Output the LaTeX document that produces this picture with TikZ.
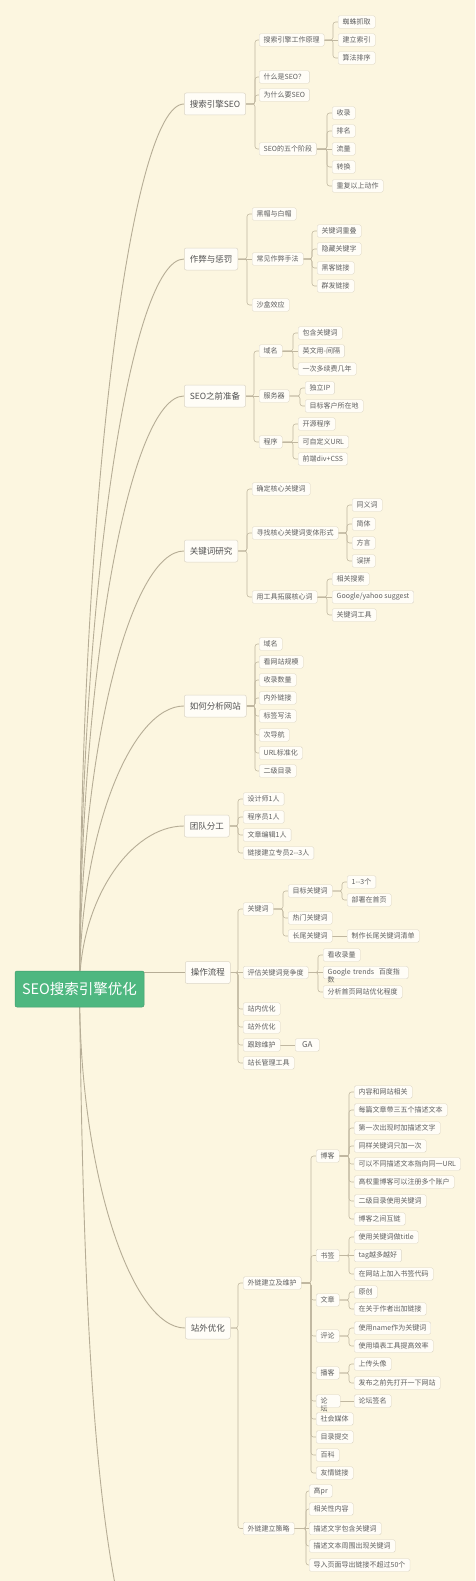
\documentclass[tikz,border=0pt]{standalone}
\usepackage{fontspec}
\setmainfont{Noto Sans CJK SC}
\usetikzlibrary{calc}
\pgfdeclarelayer{bg}
\pgfsetlayers{bg,main}
\definecolor{bgc}{RGB}{252,246,224}
\definecolor{boxfill}{RGB}{255,253,247}
\definecolor{boxline}{RGB}{220,214,198}
\definecolor{txt}{RGB}{95,95,95}
\definecolor{txtone}{RGB}{80,80,80}
\definecolor{lnc}{RGB}{192,183,160}
\definecolor{trc}{RGB}{182,173,150}
\definecolor{rootg}{RGB}{78,183,128}
\tikzset{
 l1/.style={draw=boxline, fill=boxfill, rounded corners=2pt, anchor=west, font=\fontsize{8.5}{10}\selectfont, text=txtone, inner xsep=5.5pt, inner ysep=0pt, minimum height=22pt, line width=0.5pt},
 l2/.style={draw=boxline, fill=boxfill, rounded corners=1.5pt, anchor=west, font=\fontsize{7}{8}\selectfont, text=txt, inner xsep=4.5pt, inner ysep=0pt, minimum height=12.5pt, line width=0.4pt},
 rootbox/.style={fill=rootg, draw=rootg!85!black, line width=0.5pt, rounded corners=2pt, minimum width=129pt, minimum height=36pt, font=\fontsize{14.5}{16}\selectfont, text=white, inner sep=0pt},
 br/.style={draw=lnc, line width=0.55pt, rounded corners=2.5pt},
 trunk/.style={draw=trc, line width=0.9pt},
}
\newcommand\cnx[3]{\draw[br] (#1.east) -- (#3,0 |- #1.east) |- (#2.west);}
\newcommand\cnxs[2]{\draw[br] (#1.east) -- (#2.west);}
\newcommand\trk[1]{\draw[trunk] (root.center) .. controls ($(root.center)!0.55!(root.center|-#1.west)$) and ($(#1.west)+(-53,0)$) .. (#1.west);}
\begin{document}
\begin{tikzpicture}[x=1pt,y=-1pt]
\useasboundingbox (0,0) rectangle (475,1581);
\begin{pgfonlayer}{bg}
\fill[bgc] (0,0) rectangle (475,1581);
\end{pgfonlayer}

% root
\node[rootbox] (root) at (79.5,989) {SEO搜索引擎优化};

% level 1
\node[l1] (b1) at (184,104) {搜索引擎SEO};
\node[l1] (b2) at (184,259) {作弊与惩罚};
\node[l1] (b3) at (184,396) {SEO之前准备};
\node[l1] (b4) at (184,551) {关键词研究};
\node[l1] (b5) at (184,706) {如何分析网站};
\node[l1] (b6) at (184,826) {团队分工};
\node[l1] (b7) at (185,972.5) {操作流程};
\node[l1] (b8) at (185,1328) {站外优化};

% branch 1
\node[l2] (a1) at (259,40) {搜索引擎工作原理};
\node[l2] (a11) at (338,22) {蜘蛛抓取};
\node[l2] (a12) at (338,40) {建立索引};
\node[l2] (a13) at (338,58) {算法排序};
\node[l2] (a2) at (259,77) {什么是SEO？};
\node[l2] (a3) at (259,95) {为什么要SEO};
\node[l2] (a4) at (259,149) {SEO的五个阶段};
\node[l2] (a41) at (332,113) {收录};
\node[l2] (a42) at (332,131) {排名};
\node[l2] (a43) at (332,149) {流量};
\node[l2] (a44) at (332,167) {转换};
\node[l2] (a45) at (332,186) {重复以上动作};

% branch 2
\node[l2] (c1) at (252,214) {黑帽与白帽};
\node[l2] (c2) at (252,259) {常见作弊手法};
\node[l2] (c21) at (317,231) {关键词重叠};
\node[l2] (c22) at (317,249) {隐藏关键字};
\node[l2] (c23) at (317,268) {黑客链接};
\node[l2] (c24) at (317,286) {群发链接};
\node[l2] (c3) at (252,305) {沙盒效应};

% branch 3
\node[l2] (d1) at (259,351) {域名};
\node[l2] (d11) at (298,333) {包含关键词};
\node[l2] (d12) at (298,351) {英文用-间隔};
\node[l2] (d13) at (298,369) {一次多续费几年};
\node[l2] (d2) at (259,396) {服务器};
\node[l2] (d21) at (305,388) {独立IP};
\node[l2] (d22) at (305,406) {目标客户所在地};
\node[l2] (d3) at (259,442) {程序};
\node[l2] (d31) at (298,424) {开源程序};
\node[l2] (d32) at (298,442) {可自定义URL};
\node[l2] (d33) at (298,459) {前端div+CSS};

% branch 4
\node[l2] (e1) at (252,489) {确定核心关键词};
\node[l2] (e2) at (252,533) {寻找核心关键词变体形式};
\node[l2] (e21) at (352,505) {同义词};
\node[l2] (e22) at (352,524) {简体};
\node[l2] (e23) at (352,543) {方言};
\node[l2] (e24) at (352,561) {误拼};
\node[l2] (e3) at (252,597) {用工具拓展核心词};
\node[l2] (e31) at (332,579) {相关搜索};
\node[l2] (e32) at (332,597) {Google/yahoo suggest};
\node[l2] (e33) at (332,615) {关键词工具};

% branch 5
\node[l2] (f1) at (259,644) {域名};
\node[l2] (f2) at (259,662) {看网站规模};
\node[l2] (f3) at (259,680) {收录数量};
\node[l2] (f4) at (259,698) {内外链接};
\node[l2] (f5) at (259,716) {标签写法};
\node[l2] (f6) at (259,735) {次导航};
\node[l2] (f7) at (259,753) {URL标准化};
\node[l2] (f8) at (259,771) {二级目录};

% branch 6
\node[l2] (g1) at (243,799) {设计师1人};
\node[l2] (g2) at (243,817) {程序员1人};
\node[l2] (g3) at (243,835) {文章编辑1人};
\node[l2] (g4) at (243,853) {链接建立专员2-{}-3人};

% branch 7
\node[l2] (h1) at (243,909) {关键词};
\node[l2] (h11) at (288,891) {目标关键词};
\node[l2] (h111) at (347,882) {1-{}-3个};
\node[l2] (h112) at (347,900) {部署在首页};
\node[l2] (h12) at (288,918) {热门关键词};
\node[l2] (h13) at (288,936) {长尾关键词};
\node[l2] (h131) at (347,936) {制作长尾关键词清单};
\node[l2] (h2) at (243,972.5) {评估关键词竞争度};
\node[l2] (h21) at (323,955) {看收录量};
\node[l2, text width=76pt, align=left] (h22) at (323,972.5) {\smash{\rlap{\raisebox{-7.6pt}{数}}}Google trends\ \ 百度指};
\node[l2] (h23) at (323,992) {分析首页网站优化程度};
\node[l2] (h3) at (243,1009) {站内优化};
\node[l2] (h4) at (243,1027) {站外优化};
\node[l2] (h5) at (243,1045) {跟踪维护};
\node[l2, minimum width=24pt, font=\fontsize{8}{9}\selectfont] (h51) at (295,1045) {GA};
\node[l2] (h6) at (243,1063) {站长管理工具};

% branch 8
\node[l2] (i1) at (243,1283) {外链建立及维护};
\node[l2] (i11) at (316,1156) {博客};
\node[l2] (i111) at (354,1092) {内容和网站相关};
\node[l2] (i112) at (354,1110) {每篇文章带三五个描述文本};
\node[l2] (i113) at (354,1128) {第一次出现时加描述文字};
\node[l2] (i114) at (354,1146) {同样关键词只加一次};
\node[l2] (i115) at (354,1164) {可以不同描述文本指向同一URL};
\node[l2] (i116) at (354,1182) {高权重博客可以注册多个账户};
\node[l2] (i117) at (354,1201) {二级目录使用关键词};
\node[l2] (i118) at (354,1219) {博客之间互链};
\node[l2] (i12) at (316,1255.5) {书签};
\node[l2] (i121) at (354,1237) {使用关键词做title};
\node[l2] (i122) at (354,1255.5) {tag越多越好};
\node[l2] (i123) at (354,1274) {在网站上加入书签代码};
\node[l2] (i13) at (316,1300) {文章};
\node[l2] (i131) at (354,1292) {原创};
\node[l2] (i132) at (354,1309) {在关于作者出加链接};
\node[l2] (i14) at (316,1336) {评论};
\node[l2] (i141) at (354,1328) {使用name作为关键词};
\node[l2] (i142) at (354,1346) {使用填表工具提高效率};
\node[l2] (i15) at (316,1373) {播客};
\node[l2] (i151) at (354,1364) {上传头像};
\node[l2] (i152) at (354,1383) {发布之前先打开一下网站};
\node[l2, text width=15pt, align=left] (i16) at (316,1401) {\smash{\rlap{\raisebox{-7.6pt}{坛}}}论};
\node[l2] (i161) at (354,1401) {论坛签名};
\node[l2] (i17) at (316,1419) {社会媒体};
\node[l2] (i18) at (316,1437) {目录提交};
\node[l2] (i19) at (316,1455) {百科};
\node[l2] (i1a) at (316,1473) {友情链接};
\node[l2] (i2) at (243,1528.5) {外链建立策略};
\node[l2] (i21) at (309,1491) {高pr};
\node[l2] (i22) at (309,1509) {相关性内容};
\node[l2] (i23) at (309,1528.5) {描述文字包含关键词};
\node[l2] (i24) at (309,1546) {描述文本周围出现关键词};
\node[l2] (i25) at (309,1565) {导入页面导出链接不超过50个};

\begin{pgfonlayer}{bg}
% trunk curves
\trk{b1}\trk{b2}\trk{b3}\trk{b4}\trk{b5}\trk{b6}\trk{b8}
\draw[trunk] (root.center |- b7.west) -- (b7.west);
\begin{scope}
\clip (0,0) rectangle (475,1581);
\coordinate (offb) at (150,1700);
\draw[trunk] (root.center) .. controls (84,1380) and (100,1600) .. (offb);
\end{scope}
% branch 1
\cnx{b1}{a1}{255}\cnx{b1}{a2}{255}\cnx{b1}{a3}{255}\cnx{b1}{a4}{255}
\cnx{a1}{a11}{333}\cnxs{a1}{a12}\cnx{a1}{a13}{333}
\cnx{a4}{a41}{327}\cnx{a4}{a42}{327}\cnxs{a4}{a43}\cnx{a4}{a44}{327}\cnx{a4}{a45}{327}
% branch 2
\cnx{b2}{c1}{247}\cnxs{b2}{c2}\cnx{b2}{c3}{247}
\cnx{c2}{c21}{312}\cnx{c2}{c22}{312}\cnx{c2}{c23}{312}\cnx{c2}{c24}{312}
% branch 3
\cnx{b3}{d1}{254}\cnxs{b3}{d2}\cnx{b3}{d3}{254}
\cnx{d1}{d11}{293}\cnxs{d1}{d12}\cnx{d1}{d13}{293}
\cnx{d2}{d21}{300}\cnx{d2}{d22}{300}
\cnx{d3}{d31}{293}\cnxs{d3}{d32}\cnx{d3}{d33}{293}
% branch 4
\cnx{b4}{e1}{247}\cnx{b4}{e2}{247}\cnx{b4}{e3}{247}
\cnx{e2}{e21}{347}\cnx{e2}{e22}{347}\cnx{e2}{e23}{347}\cnx{e2}{e24}{347}
\cnx{e3}{e31}{327}\cnxs{e3}{e32}\cnx{e3}{e33}{327}
% branch 5
\cnx{b5}{f1}{255}\cnx{b5}{f2}{255}\cnx{b5}{f3}{255}\cnx{b5}{f4}{255}
\cnx{b5}{f5}{255}\cnx{b5}{f6}{255}\cnx{b5}{f7}{255}\cnx{b5}{f8}{255}
% branch 6
\cnx{b6}{g1}{238}\cnx{b6}{g2}{238}\cnx{b6}{g3}{238}\cnx{b6}{g4}{238}
% branch 7
\cnx{b7}{h1}{238}\cnxs{b7}{h2}\cnx{b7}{h3}{238}\cnx{b7}{h4}{238}\cnx{b7}{h5}{238}\cnx{b7}{h6}{238}
\cnx{h1}{h11}{283}\cnx{h1}{h12}{283}\cnx{h1}{h13}{283}
\cnx{h11}{h111}{342}\cnx{h11}{h112}{342}
\cnxs{h13}{h131}
\cnx{h2}{h21}{318}\cnxs{h2}{h22}\cnx{h2}{h23}{318}
\cnxs{h5}{h51}
% branch 8
\cnx{b8}{i1}{238}\cnx{b8}{i2}{238}
\cnx{i1}{i11}{311}\cnx{i1}{i12}{311}\cnx{i1}{i13}{311}\cnx{i1}{i14}{311}\cnx{i1}{i15}{311}
\cnx{i1}{i16}{311}\cnx{i1}{i17}{311}\cnx{i1}{i18}{311}\cnx{i1}{i19}{311}\cnx{i1}{i1a}{311}
\cnx{i11}{i111}{349}\cnx{i11}{i112}{349}\cnx{i11}{i113}{349}\cnx{i11}{i114}{349}
\cnx{i11}{i115}{349}\cnx{i11}{i116}{349}\cnx{i11}{i117}{349}\cnx{i11}{i118}{349}
\cnx{i12}{i121}{349}\cnxs{i12}{i122}\cnx{i12}{i123}{349}
\cnx{i13}{i131}{349}\cnx{i13}{i132}{349}
\cnx{i14}{i141}{349}\cnx{i14}{i142}{349}
\cnx{i15}{i151}{349}\cnx{i15}{i152}{349}
\cnxs{i16}{i161}
\cnx{i2}{i21}{306}\cnx{i2}{i22}{306}\cnxs{i2}{i23}\cnx{i2}{i24}{306}\cnx{i2}{i25}{306}
\end{pgfonlayer}
\end{tikzpicture}
\end{document}
